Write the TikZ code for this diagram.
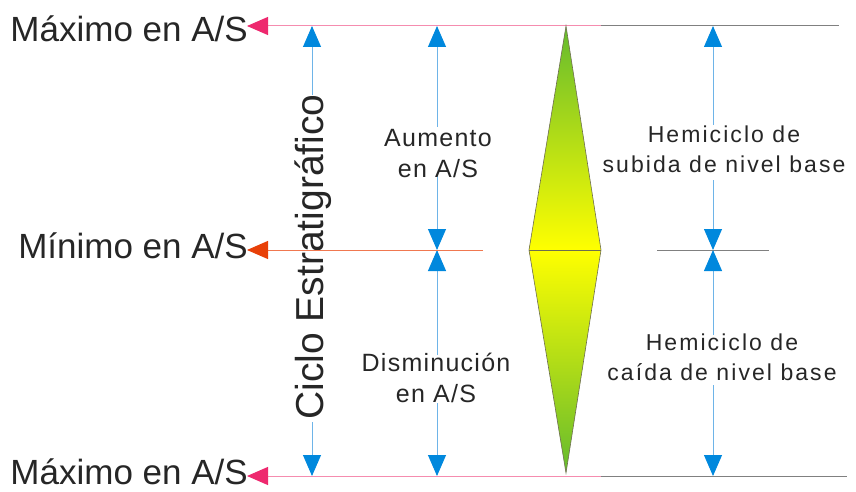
\documentclass[tikz,border=0pt]{standalone}
\usepackage{fontspec}
\setmainfont{Liberation Sans}
\newfontfamily\midfont[LetterSpace=5]{Liberation Sans}
\newfontfamily\rfont[LetterSpace=9]{Liberation Sans}
\usetikzlibrary{arrows.meta}
\definecolor{ablue}{RGB}{0,136,221}
\definecolor{lblue}{RGB}{110,180,232}
\definecolor{apink}{RGB}{238,40,110}
\definecolor{lpink}{RGB}{245,140,175}
\definecolor{aorange}{RGB}{232,64,8}
\definecolor{lorange}{RGB}{240,120,80}
\definecolor{lgray}{RGB}{128,128,128}
\definecolor{dgreen}{RGB}{100,186,46}
\definecolor{mgreen}{RGB}{182,218,0}
\definecolor{dyellow}{RGB}{255,255,0}
\definecolor{edge}{RGB}{110,110,80}
\tikzset{
  btip/.tip={Triangle[width=18pt,length=21pt,color=ablue]},
  ptip/.tip={Triangle[width=18pt,length=21pt,color=apink]},
  otip/.tip={Triangle[width=18pt,length=21pt,color=aorange]},
  bl/.style={draw=lblue,line width=0.9pt},
  pl/.style={draw=lpink,line width=1pt},
  ol/.style={draw=lorange,line width=1pt},
  gl/.style={draw=lgray,line width=1pt},
  biglabel/.style={inner sep=0pt,font=\fontsize{35}{40}\selectfont,text=black!85},
  midtxt/.style={inner sep=0pt,align=center,font=\midfont\fontsize{25}{31}\selectfont,text=black!85},
  rtxt/.style={inner sep=0pt,align=center,font=\rfont\fontsize{23}{30}\selectfont,text=black!85},
}
\begin{document}
\begin{tikzpicture}[x=1pt,y=-1pt]
\useasboundingbox (0,0) rectangle (856,492);
% coordinates of horizontal lines
\coordinate (t1) at (247,26); \coordinate (t2) at (601,26); \coordinate (t3) at (839,26);
\coordinate (m1) at (247,250); \coordinate (m2) at (483,250);
\coordinate (m3) at (657,250); \coordinate (m4) at (769,250);
\coordinate (b1) at (247,476); \coordinate (b2) at (601,476); \coordinate (b3) at (847,476);
% horizontal lines
\draw[pl,-ptip] (t2) -- (t1);
\draw[gl] (t2) -- (t3);
\draw[pl,-ptip] (b2) -- (b1);
\draw[gl] (b2) -- (b3);
\draw[gl] (m3) -- (m4);
% column 1
\coordinate (c1top) at (312,26); \coordinate (c1bot) at (312,476);
\coordinate (c1a) at (312,95); \coordinate (c1b) at (312,422);
\draw[bl,-btip] (c1a) -- (c1top);
\draw[bl,-btip] (c1b) -- (c1bot);
% column 2
\coordinate (c2top) at (437,26); \coordinate (c2mid) at (437,250); \coordinate (c2bot) at (437,476);
\coordinate (c2a) at (437,127); \coordinate (c2b) at (437,175);
\coordinate (c2c) at (437,355); \coordinate (c2d) at (437,403);
\draw[bl,-btip] (c2a) -- (c2top);
\draw[bl,-btip] (c2b) -- (c2mid);
\draw[bl,-btip] (c2c) -- (c2mid);
\draw[bl,-btip] (c2d) -- (c2bot);
% column 3
\coordinate (c3top) at (713,26); \coordinate (c3mid) at (713,250); \coordinate (c3bot) at (713,476);
\coordinate (c3a) at (713,125); \coordinate (c3b) at (713,180);
\coordinate (c3c) at (713,335); \coordinate (c3d) at (713,385);
\draw[bl,-btip] (c3a) -- (c3top);
\draw[bl,-btip] (c3b) -- (c3mid);
\draw[bl,-btip] (c3c) -- (c3mid);
\draw[bl,-btip] (c3d) -- (c3bot);
% diamond
\coordinate (dt) at (566,26); \coordinate (dl) at (529,250);
\coordinate (dr) at (601,250); \coordinate (db) at (566,473);
\shade[top color=dgreen, middle color=mgreen, bottom color=dyellow] (dt) -- (dr) -- (dl) -- cycle;
\shade[top color=dyellow, middle color=mgreen, bottom color=dgreen] (dl) -- (dr) -- (db) -- cycle;
\draw[edge,line width=0.6pt,line join=miter] (dt) -- (dr) -- (db) -- (dl) -- cycle;
\draw[edge,line width=0.6pt] (dl) -- (dr);
% labels
\node[biglabel,anchor=base east] (maxtop) at (248,42) {Máximo en A/S};
\node[biglabel,anchor=base east] (minmid) at (248,258) {Mínimo en A/S};
\node[biglabel,anchor=base east,text depth=0pt] (maxbot) at (248,484) {Máximo en A/S};
\node[inner sep=0pt,anchor=base,rotate=90,font=\fontsize{39}{44}\selectfont,text=black!85] (ciclo) at (323,257) {Ciclo Estratigráfico};
\node[midtxt,anchor=base] (aum) at (438,177) {Aumento\\en A/S};
\node[midtxt,anchor=base] (dis) at (436,402) {Disminución\\en A/S};
\node[rtxt,anchor=base] (sub) at (724,172) {Hemiciclo de\\subida de nivel base};
\node[rtxt,anchor=base] (cai) at (722,380) {Hemiciclo de\\caída de nivel base};
% middle orange line (over the rotated title)
\draw[ol,-otip] (m2) -- (m1);
\end{tikzpicture}
\end{document}
